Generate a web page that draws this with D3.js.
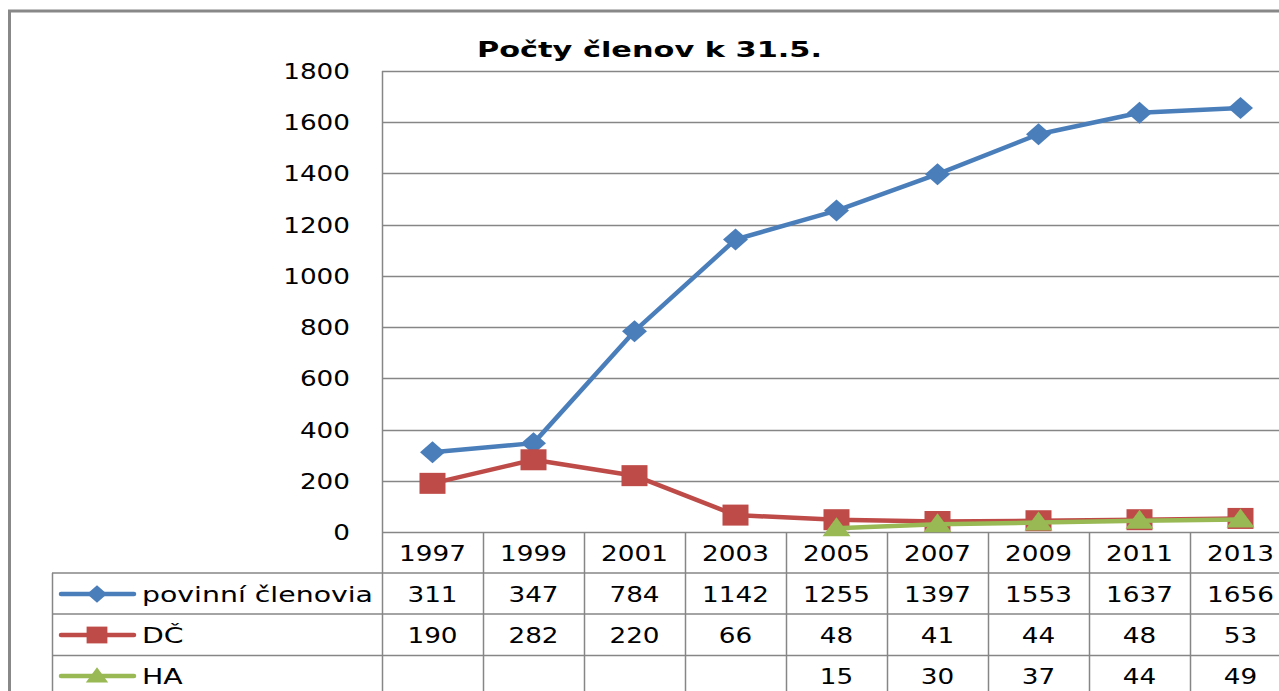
<!DOCTYPE html>
<html><head><meta charset="utf-8">
<script src="https://cdn.jsdelivr.net/npm/d3@7"></script>
<style>body{margin:0;background:#fff;overflow:hidden}svg{display:block}</style>
</head><body>
<script>
const years = ["1997","1999","2001","2003","2005","2007","2009","2011","2013"];
const povinni = [311,347,784,1142,1255,1397,1553,1637,1656];
const dc = [190,282,220,66,48,41,44,48,53];
const ha = [null,null,null,null,15,30,37,44,49];
const yTicks = [0,200,400,600,800,1000,1200,1400,1600,1800];
const seriesNames = ["povinní členovia","DČ","HA"];
const title = "Počty členov k 31.5.";

const W=1279,H=691;
const svg=d3.select("body").append("svg").attr("width",W).attr("height",H);
const grid="#868686";
const font="DejaVu Sans";
const colors=["#4A7EBB","#BE4B48","#98B954"];

const x=d3.scaleBand().domain(years).range([382,382+9*101]);
const y=d3.scaleLinear().domain([0,1800]).range([532,71]);

// frame
svg.append("line").attr("x1",9.5).attr("x2",9.5).attr("y1",10).attr("y2",H).attr("stroke","#888").attr("stroke-width",3);
svg.append("line").attr("x1",8).attr("x2",W).attr("y1",11).attr("y2",11).attr("stroke","#888").attr("stroke-width",3);

// title
svg.append("text").attr("x",477).attr("y",57).attr("font-family",font).attr("font-weight","bold")
  .attr("font-size",22).attr("textLength",345).attr("lengthAdjust","spacingAndGlyphs").attr("fill","#000").text(title);

// gridlines
const g=svg.append("g");
g.selectAll("line.grid").data(yTicks).join("line").attr("class","grid")
 .attr("x1",382).attr("x2",W).attr("y1",d=>Math.round(y(d))+0.5).attr("y2",d=>Math.round(y(d))+0.5)
 .attr("stroke",grid).attr("stroke-width",1.5);

// y labels
function stext(sel,sx){ // stretched text helper
  return sel;
}
const yl=svg.append("g");
yTicks.forEach(t=>{
  yl.append("text").attr("transform",`translate(350,${Math.round(y(t))+8}) scale(1.25,1)`)
    .attr("text-anchor","end").attr("font-family",font).attr("font-size",21).attr("fill","#000").text(t);
});

// table
const rowTop=[532,573,614,655,696];
const tb=svg.append("g").attr("stroke",grid).attr("stroke-width",1.5);
// horizontal lines
tb.append("line").attr("x1",52).attr("x2",W).attr("y1",573).attr("y2",573);
tb.append("line").attr("x1",52).attr("x2",W).attr("y1",614).attr("y2",614);
tb.append("line").attr("x1",52).attr("x2",W).attr("y1",655.5).attr("y2",655.5);
// vertical lines
tb.append("line").attr("x1",52.5).attr("x2",52.5).attr("y1",573).attr("y2",H);
tb.append("line").attr("x1",382.5).attr("x2",382.5).attr("y1",71).attr("y2",H);
years.forEach(yr=>{
  const xx=x(yr)+x.bandwidth();
  tb.append("line").attr("x1",xx+0.5).attr("x2",xx+0.5).attr("y1",532).attr("y2",H);
});

// header years
years.forEach(yr=>{
  svg.append("text").attr("transform",`translate(${x(yr)+x.bandwidth()/2},561) scale(1.25,1)`)
   .attr("text-anchor","middle").attr("font-family",font).attr("font-size",21).attr("fill","#000").text(yr);
});
const allSeries=[povinni,dc,ha];
allSeries.forEach((s,i)=>{
  const base=rowTop[i+1]+29;
  s.forEach((v,j)=>{
    if(v==null) return;
    svg.append("text").attr("transform",`translate(${x(years[j])+x.bandwidth()/2},${base}) scale(1.25,1)`)
     .attr("text-anchor","middle").attr("font-family",font).attr("font-size",21).attr("fill","#000").text(v);
  });
});

// legend labels in table
const legendW=[232,null,null];
seriesNames.forEach((n,i)=>{
  const base=rowTop[i+1]+29;
  svg.append("text").attr("transform",`translate(142,${base}) scale(1.35,1)`)
    .attr("font-family",font).attr("font-size",21).attr("fill","#000").text(n);
});

function marker(gs,type,cx,cy,color,sc){
  if(type==="diamond"){
    gs.append("path").attr("d",`M${cx},${cy-11*sc}L${cx+12.5*sc},${cy}L${cx},${cy+11*sc}L${cx-12.5*sc},${cy}Z`).attr("fill",color);
  } else if(type==="square"){
    gs.append("rect").attr("x",cx-13*sc).attr("y",cy-10.5*sc).attr("width",26*sc).attr("height",21*sc).attr("fill",color);
  } else {
    gs.append("path").attr("d",`M${cx},${cy-11*sc}L${cx+14*sc},${cy+8*sc}L${cx-14*sc},${cy+8*sc}Z`).attr("fill",color);
  }
}
const types=["diamond","square","triangle"];

// legend keys
types.forEach((t,i)=>{
  const cy=rowTop[i+1]+21;
  const lg=svg.append("g");
  lg.append("line").attr("x1",61).attr("x2",134).attr("y1",cy).attr("y2",cy).attr("stroke",colors[i]).attr("stroke-width",4.5).attr("stroke-linecap","round");
  marker(lg,t,97,cy,colors[i],0.8);
});

// lines
const line=d3.line().defined(d=>d.v!=null).x(d=>x(d.k)+x.bandwidth()/2).y(d=>y(d.v));
allSeries.forEach((s,i)=>{
  const data=s.map((v,j)=>({k:years[j],v}));
  const sg=svg.append("g");
  sg.append("path").datum(data).attr("d",line).attr("fill","none").attr("stroke",colors[i]).attr("stroke-width",4.5).attr("stroke-linejoin","round");
  data.filter(d=>d.v!=null).forEach(d=>marker(sg,types[i],x(d.k)+x.bandwidth()/2,y(d.v),colors[i],1));
});
</script>
</body></html>
